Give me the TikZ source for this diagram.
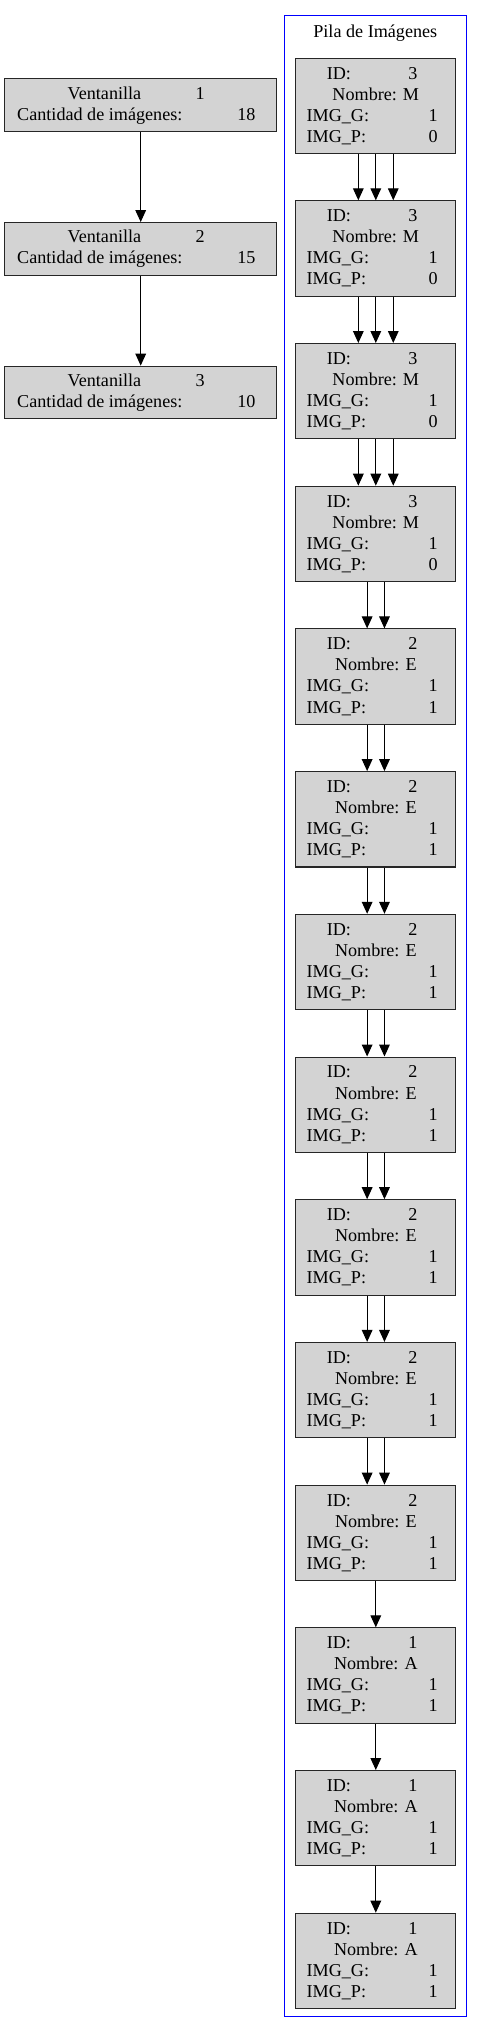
\documentclass[tikz,border=0pt]{standalone}
\usepackage{fontspec}
\setmainfont{Liberation Serif}
\usepackage{xcolor}
\usetikzlibrary{arrows.meta,positioning}
\definecolor{gris}{HTML}{D3D3D3}
\newcommand{\fuente}{\fontsize{13.6pt}{15.8pt}\selectfont}
% a row: total width, text width, left part, right part
\newcommand{\fila}[4]{\makebox[#1][l]{\makebox[#2]{#3\hfill#4}}}

\begin{document}
\begin{tikzpicture}[
    x=0.75pt, y=-0.75pt,
    >={Triangle[length=9pt,width=8pt]},
    caja/.style={
        draw=black!85,
        fill=gris,
        line width=0.8pt,
        align=center,
        font=\fuente,
        minimum width=204pt,
        minimum height=39.5pt,
        inner sep=0pt
    },
    imagen/.style={
        caja,
        minimum width=119.8pt,
        minimum height=71.5pt
    },
    flecha/.style={->, line width=0.8pt}
]
\useasboundingbox (0,0) rectangle (483,2034);

% ventanillas
\node[caja] (vent1) at (140.7,105.3)
  {\fila{109.5pt}{102.75pt}{Ventanilla}{1}\\\fila{185.2pt}{178.7pt}{Cantidad de imágenes:}{18}};
\node[caja, below=67.4pt of vent1] (vent2)
  {\fila{109.5pt}{102.75pt}{Ventanilla}{2}\\\fila{185.2pt}{178.7pt}{Cantidad de imágenes:}{15}};
\node[caja, below=67.4pt of vent2] (vent3)
  {\fila{109.5pt}{102.75pt}{Ventanilla}{3}\\\fila{185.2pt}{178.7pt}{Cantidad de imágenes:}{10}};

\draw[flecha] (vent1) -- (vent2);
\draw[flecha] (vent2) -- (vent3);

% pila
\draw[blue, line width=0.6pt] (284.7,15.7) rectangle (466,2016.7);
\node[font=\fuente] (titulo) at (375.3,33) {Pila de Imágenes};

\foreach \i/\id/\nom/\p in {1/3/M/0, 2/3/M/0, 3/3/M/0, 4/3/M/0,
    5/2/E/1, 6/2/E/1, 7/2/E/1, 8/2/E/1, 9/2/E/1, 10/2/E/1, 11/2/E/1,
    12/1/A/1, 13/1/A/1, 14/1/A/1}
  \node[imagen] (img\i) at (375.8,{105.8+142.7*(\i-1)})
    {\fila{73.5pt}{68pt}{ID:}{\id}\\Nombre: \nom\\
     \fila{103.75pt}{98.25pt}{IMG\_G:}{1}\\\fila{103.75pt}{98.25pt}{IMG\_P:}{\p}};

\foreach \i [evaluate=\i as \j using int(\i+1)] in {1,2,3}
  \foreach \dx in {-13.1pt,0pt,13.1pt}
    \draw[flecha] ([xshift=\dx]img\i.south) -- ([xshift=\dx]img\j.north);
\foreach \i [evaluate=\i as \j using int(\i+1)] in {4,...,10}
  \foreach \dx in {-6.5pt,6.5pt}
    \draw[flecha] ([xshift=\dx]img\i.south) -- ([xshift=\dx]img\j.north);
\foreach \i [evaluate=\i as \j using int(\i+1)] in {11,12,13}
  \draw[flecha] (img\i) -- (img\j);

\end{tikzpicture}
\end{document}
